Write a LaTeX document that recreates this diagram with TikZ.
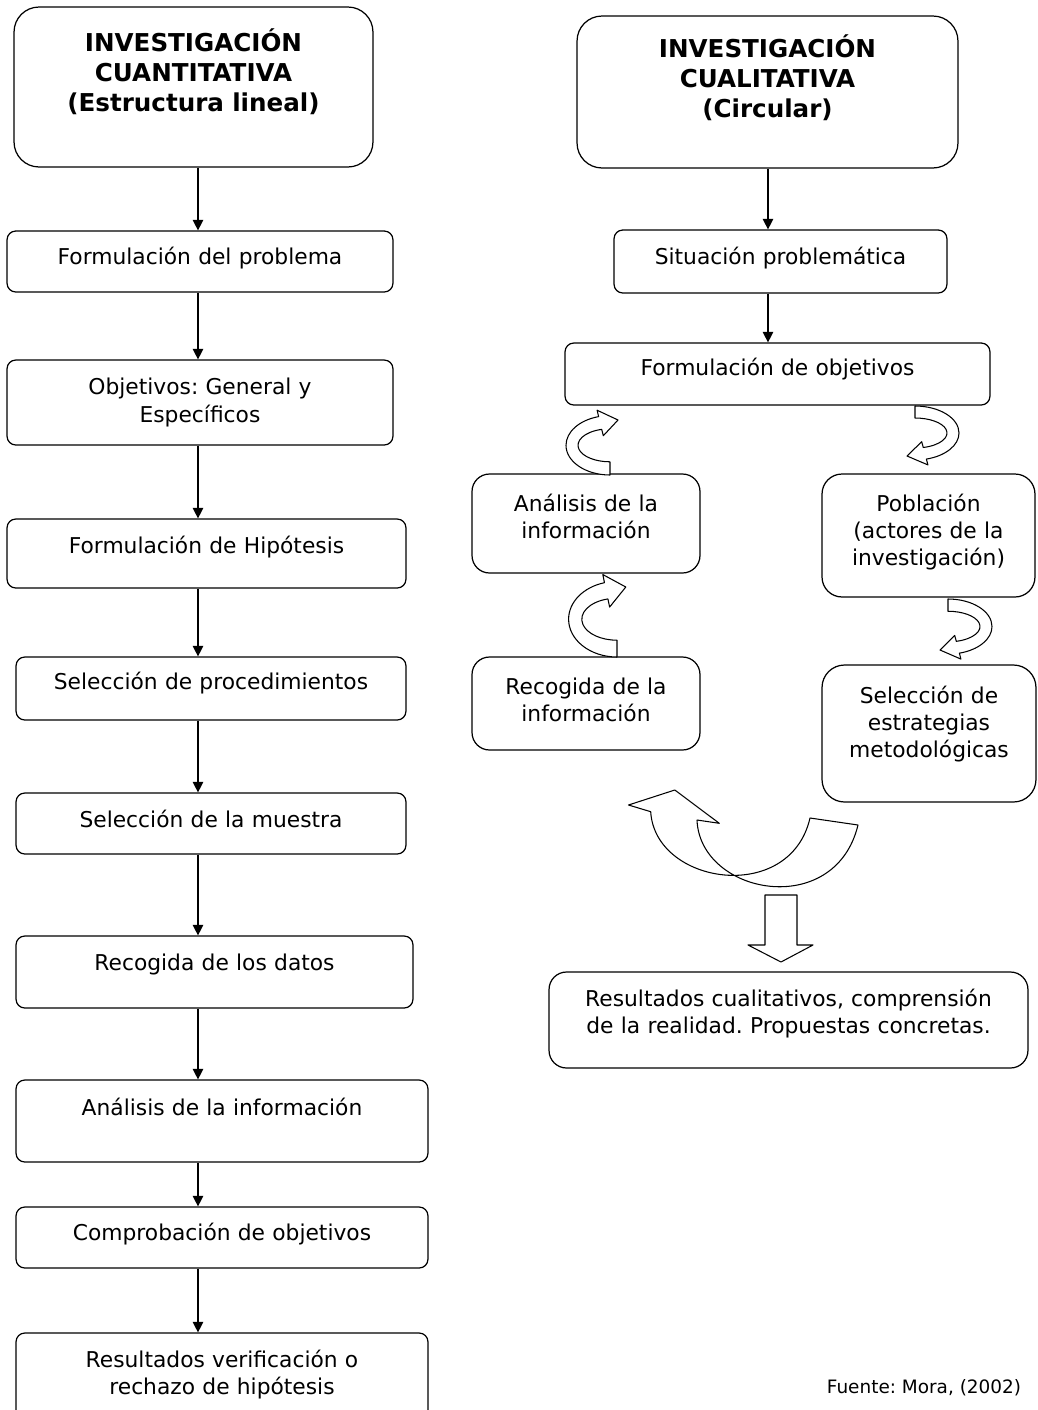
\documentclass[tikz,border=0pt]{standalone}
\usepackage{fontspec}
\setmainfont{DejaVu Sans}
\usepackage{tikz}
\usetikzlibrary{arrows.meta,calc}
\frenchspacing

\newcommand{\bodyfont}{\fontsize{12.4}{15.4}\selectfont}
\newcommand{\headfont}{\fontsize{14}{17}\selectfont\bfseries}
\newcommand{\padbot}[1]{\par\vspace{#1}\hrule height 0pt}
% curved block arrow: tail at the origin, bulge to the left, head on top
\newcommand{\bendarr}[2][]{%
  \begin{scope}[shift={#2},#1]
    \draw[curlarrow] (0,0) arc[start angle=90, end angle=255, x radius=44, y radius=27]
      -- (-12.9,-58.9) -- (8,-50) -- (-6.7,-35.7) -- (-8.28,-41.49)
      arc[start angle=255, end angle=90, x radius=32, y radius=15] -- cycle;
  \end{scope}}

\begin{document}
\begin{tikzpicture}[
  x=0.02cm, y=-0.02cm,
  box/.style={draw, line width=0.7pt, rounded corners=#1, align=center,
              inner sep=0pt, font=\bodyfont},
  box/.default=5pt,
  arr/.style={-{Triangle[length=6pt, width=6pt]}, line width=0.7pt},
  curlarrow/.style={draw, fill=white, line width=0.6pt, line join=round},
]
\useasboundingbox (0,0) rectangle (1038,1410);

%% --- Left column: lineal ---
\node[box=0.5cm, font=\headfont, minimum width=7.18cm, minimum height=3.2cm,
      text width=6.8cm] (cuanti) at (193.5,87)
      {INVESTIGACIÓN\\CUANTITATIVA\\(Estructura lineal)\padbot{0.62cm}};
\node[box, minimum width=7.72cm, minimum height=1.22cm, text width=7.4cm]
      (formp) at (200,261.5) {Formulación del problema\padbot{0.14cm}};
\node[box, minimum width=7.72cm, minimum height=1.7cm, text width=7.4cm]
      (objet) at (200,402.5) {Objetivos: General y\\Específicos};
\node[box, minimum width=7.98cm, minimum height=1.38cm, text width=7.6cm]
      (hipot) at (206.5,553.5) {Formulación de Hipótesis\padbot{0.26cm}};
\node[box, minimum width=7.8cm, minimum height=1.26cm, text width=7.5cm]
      (proced) at (211,688.5) {Selección de procedimientos\padbot{0.22cm}};
\node[box, minimum width=7.8cm, minimum height=1.22cm, text width=7.5cm]
      (muestra) at (211,823.5) {Selección de la muestra\padbot{0.18cm}};
\node[box, minimum width=7.94cm, minimum height=1.44cm, text width=7.6cm]
      (datos) at (214.5,972) {Recogida de los datos\padbot{0.32cm}};
\node[box, minimum width=8.24cm, minimum height=1.64cm, text width=7.9cm]
      (analis) at (222,1121) {Análisis de la información\padbot{0.56cm}};
\node[box, minimum width=8.24cm, minimum height=1.22cm, text width=7.9cm]
      (compro) at (222,1237.5) {Comprobación de objetivos\padbot{0.14cm}};
\node[box, minimum width=8.24cm, minimum height=1.84cm, text width=7.9cm]
      (result) at (222,1379) {Resultados verificación o\\rechazo de hipótesis\padbot{0.18cm}};

\coordinate (axL) at (198,0);
\foreach \a/\b in {cuanti/formp, formp/objet, objet/hipot, hipot/proced,
                   proced/muestra, muestra/datos, datos/analis,
                   analis/compro, compro/result}
  \draw[arr] (\a.south -| axL) -- (\b.north -| axL);

%% --- Right column: circular ---
\node[box=0.5cm, font=\headfont, minimum width=7.62cm, minimum height=3.04cm,
      text width=7.2cm] (cuali) at (767.5,92)
      {INVESTIGACIÓN\\CUALITATIVA\\(Circular)\padbot{0.56cm}};
\node[box, minimum width=6.66cm, minimum height=1.26cm, text width=6.3cm]
      (situa) at (780.5,261.5) {Situación problemática\padbot{0.14cm}};
\node[box, minimum width=8.5cm, minimum height=1.24cm, text width=8.1cm]
      (formo) at (777.5,374) {Formulación de objetivos\padbot{0.2cm}};
\node[box=0.35cm, minimum width=4.56cm, minimum height=1.98cm, text width=4.2cm]
      (analr) at (586,523.5) {Análisis de la\\información\padbot{0.3cm}};
\node[box=0.4cm, minimum width=4.26cm, minimum height=2.46cm, text width=4.0cm]
      (pobla) at (928.5,535.5) {Población\\(actores de la\\investigación)\padbot{0.14cm}};
\node[box=0.35cm, minimum width=4.56cm, minimum height=1.86cm, text width=4.2cm]
      (recog) at (586,703.5) {Recogida de la\\información\padbot{0.14cm}};
\node[box=0.45cm, minimum width=4.28cm, minimum height=2.74cm, text width=4.0cm]
      (estra) at (929,733.5) {Selección de\\estrategias\\metodológicas\padbot{0.38cm}};
\node[box=0.35cm, minimum width=9.58cm, minimum height=1.92cm, text width=9.2cm]
      (rescu) at (788.5,1020)
      {Resultados cualitativos, comprensión\\de la realidad. Propuestas concretas.\padbot{0.24cm}};

\coordinate (axR) at (768,0);
\draw[arr] (cuali.south -| axR) -- (situa.north -| axR);
\draw[arr] (situa.south -| axR) -- (formo.north -| axR);

%% --- Curved block arrows ---
\bendarr[yscale=1.1]{(610,475)}
\bendarr[xscale=1.1, yscale=1.4]{(617,657)}
\bendarr[rotate=180]{(915,406)}
\bendarr[rotate=180, yscale=1.02]{(948,599)}

% big curved-up arrow
\draw[curlarrow] (650.7,811.7) .. controls (655,885) and (790,905) .. (810,818)
  -- (858,825) .. controls (835,920) and (700,895) .. (697,820)
  -- (719.3,823.3) -- (674.8,790) -- (628.5,805) -- cycle;

% down block arrow
\draw[curlarrow] (765,895) -- (797,895) -- (797,945) -- (813,945)
  -- (781,962) -- (748,945) -- (765,945) -- cycle;

%% --- Source note ---
\node[font=\fontsize{10.5}{12}\selectfont] (fuente) at (924,1388) {Fuente: Mora, (2002)};

\end{tikzpicture}
\end{document}
